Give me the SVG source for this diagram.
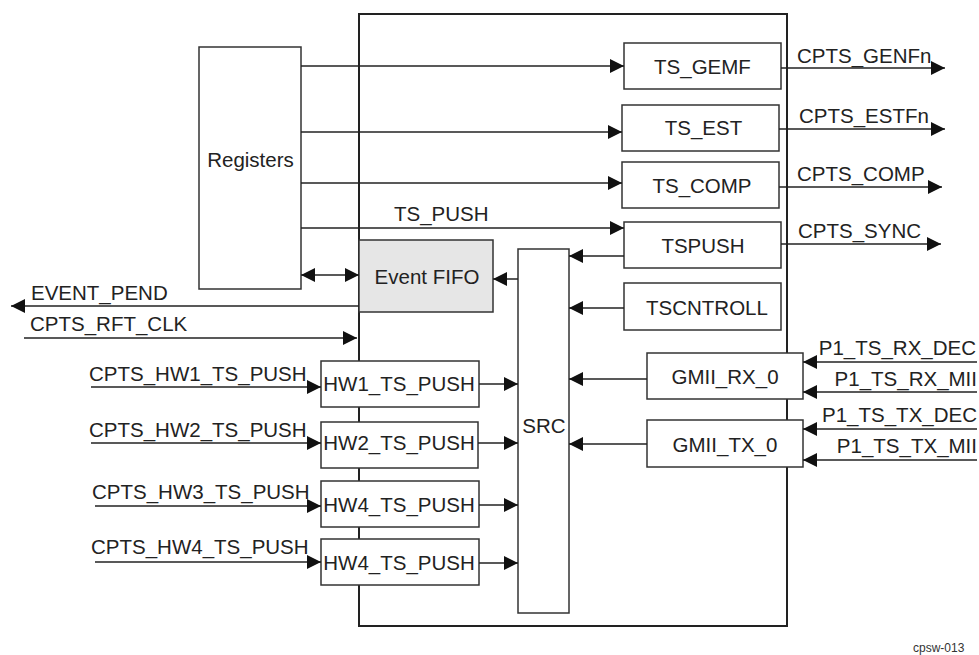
<svg xmlns="http://www.w3.org/2000/svg" width="979" height="655" viewBox="0 0 979 655">
<style>
text{font-family:"Liberation Sans",Arial,sans-serif;font-size:20.5px;fill:#222}
.c{text-anchor:middle}
.e{text-anchor:end}
.box{fill:#fff;stroke:#333;stroke-width:1.5}
.main{fill:none;stroke:#222;stroke-width:2}
.ln{fill:none;stroke:#222;stroke-width:1.5}
.small{font-size:12px;fill:#333}
</style>
<defs>
<marker id="ah" markerWidth="14" markerHeight="14" refX="14" refY="7" orient="auto" markerUnits="userSpaceOnUse">
<path d="M0,0 L14,7 L0,14 z" fill="#111"/>
</marker>
<marker id="as" markerWidth="14" markerHeight="14" refX="0" refY="7" orient="auto" markerUnits="userSpaceOnUse">
<path d="M14,0 L0,7 L14,14 z" fill="#111"/>
</marker>
</defs>

<rect class="main" x="359" y="14" width="428" height="612"/>

<g id="registers"><rect class="box" x="199" y="47" width="102" height="242"/><text class="c" x="250.5" y="167">Registers</text></g>
<g id="ts_gemf"><rect class="box" x="624" y="43" width="157" height="46"/><text class="c" x="702.5" y="74">TS_GEMF</text></g>
<g id="ts_est"><rect class="box" x="622" y="105" width="157" height="46"/><text class="c" x="703.5" y="135">TS_EST</text></g>
<g id="ts_comp"><rect class="box" x="622" y="162" width="157" height="46"/><text class="c" x="702" y="193">TS_COMP</text></g>
<g id="tspush"><rect class="box" x="624" y="222" width="157" height="46"/><text class="c" x="703" y="253">TSPUSH</text></g>
<g id="tscntroll"><rect class="box" x="624" y="283" width="157" height="47"/><text class="c" x="707" y="315">TSCNTROLL</text></g>
<g id="event_fifo"><rect x="359" y="240" width="134" height="72" fill="#e6e6e6" stroke="#333" stroke-width="1.5"/><text class="c" x="427" y="284">Event FIFO</text></g>
<g id="src"><rect class="box" x="518" y="249" width="51" height="364"/><text class="c" x="544" y="433">SRC</text></g>
<g id="hw1"><rect class="box" x="321" y="361" width="158" height="46"/><text class="c" x="399" y="391">HW1_TS_PUSH</text></g>
<g id="hw2"><rect class="box" x="321" y="422" width="157" height="46"/><text class="c" x="399" y="450">HW2_TS_PUSH</text></g>
<g id="hw3"><rect class="box" x="321" y="481" width="158" height="46"/><text class="c" x="399" y="512">HW4_TS_PUSH</text></g>
<g id="hw4"><rect class="box" x="321" y="539" width="158" height="46"/><text class="c" x="399" y="570">HW4_TS_PUSH</text></g>
<g id="gmii_rx"><rect class="box" x="647" y="353" width="156" height="46"/><text class="c" x="725" y="384">GMII_RX_0</text></g>
<g id="gmii_tx"><rect class="box" x="647" y="420" width="156" height="47"/><text class="c" x="725" y="452">GMII_TX_0</text></g>

<g id="connectors">
<line class="ln" x1="301" y1="66" x2="624" y2="66" marker-end="url(#ah)"/>
<line class="ln" x1="301" y1="132" x2="622" y2="132" marker-end="url(#ah)"/>
<line class="ln" x1="301" y1="183" x2="622" y2="183" marker-end="url(#ah)"/>
<line class="ln" x1="301" y1="228" x2="624" y2="228" marker-end="url(#ah)"/>
<line class="ln" x1="301" y1="275" x2="359" y2="275" marker-start="url(#as)" marker-end="url(#ah)"/>
<line class="ln" x1="518" y1="279" x2="493" y2="279" marker-end="url(#ah)"/>
<line class="ln" x1="624" y1="256" x2="569" y2="256" marker-end="url(#ah)"/>
<line class="ln" x1="624" y1="308" x2="569" y2="308" marker-end="url(#ah)"/>
<line class="ln" x1="781" y1="68" x2="945" y2="68" marker-end="url(#ah)"/>
<line class="ln" x1="779" y1="129" x2="945" y2="129" marker-end="url(#ah)"/>
<line class="ln" x1="779" y1="187" x2="942" y2="187" marker-end="url(#ah)"/>
<line class="ln" x1="781" y1="244" x2="941" y2="244" marker-end="url(#ah)"/>
<line class="ln" x1="359" y1="306" x2="11" y2="306" marker-end="url(#ah)"/>
<line class="ln" x1="24" y1="338" x2="357" y2="338" marker-end="url(#ah)"/>
<line class="ln" x1="91" y1="387" x2="321" y2="387" marker-end="url(#ah)"/>
<line class="ln" x1="91" y1="443" x2="321" y2="443" marker-end="url(#ah)"/>
<line class="ln" x1="95" y1="506" x2="321" y2="506" marker-end="url(#ah)"/>
<line class="ln" x1="95" y1="562" x2="321" y2="562" marker-end="url(#ah)"/>
<line class="ln" x1="479" y1="384" x2="518" y2="384" marker-end="url(#ah)"/>
<line class="ln" x1="478" y1="443" x2="518" y2="443" marker-end="url(#ah)"/>
<line class="ln" x1="479" y1="505" x2="518" y2="505" marker-end="url(#ah)"/>
<line class="ln" x1="479" y1="563" x2="518" y2="563" marker-end="url(#ah)"/>
<line class="ln" x1="647" y1="379" x2="569" y2="379" marker-end="url(#ah)"/>
<line class="ln" x1="647" y1="444" x2="569" y2="444" marker-end="url(#ah)"/>
<line class="ln" x1="977" y1="362" x2="803" y2="362" marker-end="url(#ah)"/>
<line class="ln" x1="977" y1="392" x2="803" y2="392" marker-end="url(#ah)"/>
<line class="ln" x1="977" y1="429" x2="803" y2="429" marker-end="url(#ah)"/>
<line class="ln" x1="977" y1="460" x2="803" y2="460" marker-end="url(#ah)"/>
</g>

<g id="labels">
<text x="394" y="221">TS_PUSH</text>
<text x="797" y="63">CPTS_GENFn</text>
<text x="799" y="123">CPTS_ESTFn</text>
<text x="797" y="181">CPTS_COMP</text>
<text x="798" y="238">CPTS_SYNC</text>
<text x="31" y="300">EVENT_PEND</text>
<text x="30" y="331">CPTS_RFT_CLK</text>
<text x="89" y="381">CPTS_HW1_TS_PUSH</text>
<text x="89" y="437">CPTS_HW2_TS_PUSH</text>
<text x="92" y="499">CPTS_HW3_TS_PUSH</text>
<text x="91" y="554">CPTS_HW4_TS_PUSH</text>
<text class="e" x="976" y="355">P1_TS_RX_DEC</text>
<text class="e" x="977" y="386">P1_TS_RX_MII</text>
<text class="e" x="977" y="422">P1_TS_TX_DEC</text>
<text class="e" x="977" y="453">P1_TS_TX_MII</text>
<text class="small" x="913" y="652">cpsw-013</text>
</g>
</svg>
